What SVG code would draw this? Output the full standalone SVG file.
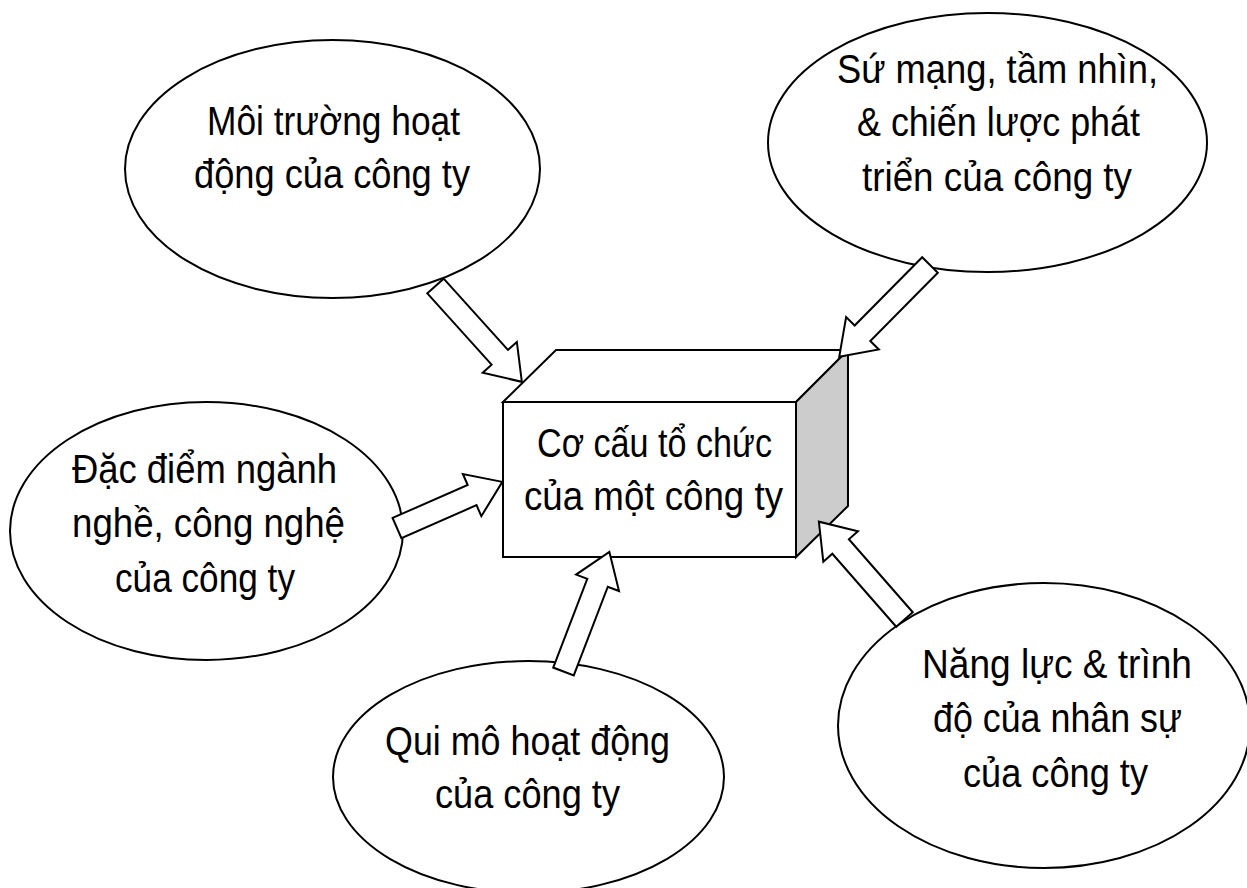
<svg xmlns="http://www.w3.org/2000/svg" width="1247" height="888" viewBox="0 0 1247 888">
<style>
.bub{fill:#ffffff;stroke:#000000;stroke-width:2}
.t{font-family:"Liberation Sans","Arial",sans-serif;font-size:40px;fill:#000000;text-anchor:middle}
.arr{fill:#ffffff;stroke:#000000;stroke-width:2;stroke-linejoin:miter}
.face{fill:#ffffff;stroke:#000000;stroke-width:2;stroke-linejoin:miter}
.side{fill:#cccccc;stroke:#000000;stroke-width:2;stroke-linejoin:miter}
</style>
<rect width="1247" height="888" fill="#ffffff"/>
<g id="node-moi-truong">
<ellipse class="bub" cx="332.5" cy="169" rx="207.5" ry="129"/>
<text class="t" x="333.5" y="135" textLength="253" lengthAdjust="spacingAndGlyphs">Môi trường hoạt</text>
<text class="t" x="332" y="188" textLength="276" lengthAdjust="spacingAndGlyphs">động của công ty</text>
</g>
<g id="node-su-mang">
<ellipse class="bub" cx="987.5" cy="142.5" rx="219.5" ry="129.5"/>
<text class="t" x="997.5" y="83" textLength="321" lengthAdjust="spacingAndGlyphs">Sứ mạng, tầm nhìn,</text>
<text class="t" x="998.5" y="136" textLength="283" lengthAdjust="spacingAndGlyphs">&amp; chiến lược phát</text>
<text class="t" x="997" y="191" textLength="270" lengthAdjust="spacingAndGlyphs">triển của công ty</text>
</g>
<g id="node-dac-diem">
<ellipse class="bub" cx="206.5" cy="531" rx="196.5" ry="129"/>
<text class="t" x="204.5" y="483" textLength="265" lengthAdjust="spacingAndGlyphs">Đặc điểm ngành</text>
<text class="t" x="208.5" y="537" textLength="273" lengthAdjust="spacingAndGlyphs">nghề, công nghệ</text>
<text class="t" x="205" y="592" textLength="180" lengthAdjust="spacingAndGlyphs">của công ty</text>
</g>
<g id="node-qui-mo">
<ellipse class="bub" cx="528.5" cy="777" rx="195.5" ry="116"/>
<text class="t" x="527.5" y="755" textLength="285" lengthAdjust="spacingAndGlyphs">Qui mô hoạt động</text>
<text class="t" x="527.5" y="808" textLength="185" lengthAdjust="spacingAndGlyphs">của công ty</text>
</g>
<g id="node-nang-luc">
<ellipse class="bub" cx="1044" cy="725.5" rx="206" ry="142.5"/>
<text class="t" x="1057" y="678" textLength="270" lengthAdjust="spacingAndGlyphs">Năng lực &amp; trình</text>
<text class="t" x="1057.5" y="732" textLength="249" lengthAdjust="spacingAndGlyphs">độ của nhân sự</text>
<text class="t" x="1055.5" y="787" textLength="185" lengthAdjust="spacingAndGlyphs">của công ty</text>
</g>
<g id="node-co-cau">
<polygon class="face" points="503,402 556,350 848,350 796,402"/>
<polygon class="side" points="796,402 848,350 848,506 796,557"/>
<rect class="face" x="503" y="402" width="293" height="155"/>
<text class="t" x="654.5" y="457" textLength="235" lengthAdjust="spacingAndGlyphs">Cơ cấu tổ chức</text>
<text class="t" x="653.5" y="510" textLength="259" lengthAdjust="spacingAndGlyphs">của một công ty</text>
</g>
<g id="connectors">
<polygon class="arr" transform="translate(435.5,286) rotate(47.98)" points="0,-11 96,-11 96,-23 129,0 96,23 96,11 0,11"/>
<polygon class="arr" transform="translate(930,265) rotate(134.7)" points="0,-11 96,-11 96,-23 129,0 96,23 96,11 0,11"/>
<polygon class="arr" transform="translate(397,528) rotate(-23.66)" points="0,-11 82,-11 82,-23 115,0 82,23 82,11 0,11"/>
<polygon class="arr" transform="translate(563.5,671.5) rotate(-69)" points="0,-11 95,-11 95,-23 128,0 95,23 95,11 0,11"/>
<polygon class="arr" transform="translate(904.5,619.5) rotate(-131.2)" points="0,-11 97,-11 97,-23 130,0 97,23 97,11 0,11"/>
</g>
</svg>
